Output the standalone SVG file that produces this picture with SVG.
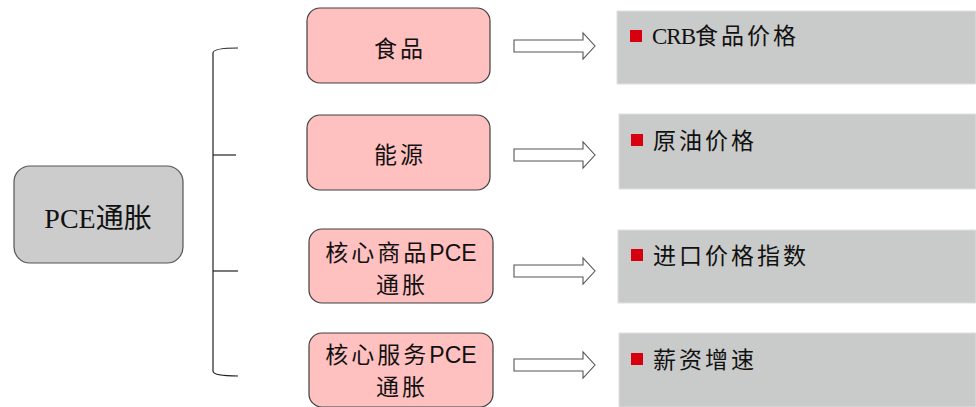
<svg xmlns="http://www.w3.org/2000/svg" width="976" height="407" viewBox="0 0 976 407">
<style>
  .cjk { font-family: "Liberation Serif", "Noto Sans CJK SC", serif; fill: #111; }
  .sans { font-family: "Liberation Sans", Arial, sans-serif; }
  .pink { fill: #ffc0c0; stroke: #404040; stroke-width: 1.2; }
  .gray { fill: #cccccc; stroke: #555; stroke-width: 1.2; }
  .panel { fill: #c9caca; stroke: #e0e0e0; stroke-width: 1; }
  .bullet { fill: #d7000f; }
  .line { fill: none; stroke: #222; stroke-width: 1.2; }
  .arrow { fill: #ffffff; stroke: #555; stroke-width: 1.1; }
  .node { font-size: 23px; letter-spacing: 3px; }
  .item { font-size: 23px; letter-spacing: 3px; }
</style>
<defs>
  <path id="blockArrow" d="M0,-6 H69 V-13 L81,0 L69,13 V6 H0 Z"/>
</defs>
<rect width="976" height="407" fill="#ffffff"/>

<g id="connectors">
  <path class="line" d="M238,48 Q213,48 213,53 V371 Q213,376 238,376"/>
  <line class="line" x1="213" y1="155" x2="236" y2="155"/>
  <line class="line" x1="213" y1="271" x2="238" y2="271"/>
  <use href="#blockArrow" class="arrow" transform="translate(514,46)"/>
  <use href="#blockArrow" class="arrow" transform="translate(514,155)"/>
  <use href="#blockArrow" class="arrow" transform="translate(514,271)"/>
  <use href="#blockArrow" class="arrow" transform="translate(514,365)"/>
</g>

<g id="node-pce">
  <rect class="gray" x="14" y="166" width="169" height="97" rx="16"/>
  <text class="cjk" x="98" y="228" font-size="28" text-anchor="middle">PCE通胀</text>
</g>

<g id="node-food">
  <rect class="pink" x="307" y="8" width="183" height="75" rx="13"/>
  <text class="cjk node" x="400" y="57" text-anchor="middle">食品</text>
</g>
<g id="node-energy">
  <rect class="pink" x="307" y="115" width="183" height="75" rx="13"/>
  <text class="cjk node" x="400" y="163" text-anchor="middle">能源</text>
</g>
<g id="node-core-goods">
  <rect class="pink" x="309" y="229" width="184" height="74" rx="13"/>
  <text class="cjk node" x="401" y="261" text-anchor="middle">核心商品<tspan class="sans" letter-spacing="0">PCE</tspan></text>
  <text class="cjk node" x="402" y="293" text-anchor="middle">通胀</text>
</g>
<g id="node-core-services">
  <rect class="pink" x="309" y="333" width="184" height="74" rx="13"/>
  <text class="cjk node" x="401" y="363" text-anchor="middle">核心服务<tspan class="sans" letter-spacing="0">PCE</tspan></text>
  <text class="cjk node" x="402" y="395" text-anchor="middle">通胀</text>
</g>

<g id="panel-crb">
  <rect class="panel" x="617" y="11" width="359" height="73"/>
  <rect class="bullet" x="630" y="30" width="12" height="12"/>
  <text class="cjk item" x="652" y="44"><tspan letter-spacing="-1">CRB</tspan>食品价格</text>
</g>
<g id="panel-oil">
  <rect class="panel" x="619" y="114" width="357" height="75"/>
  <rect class="bullet" x="631" y="134" width="12" height="12"/>
  <text class="cjk item" x="653" y="149">原油价格</text>
</g>
<g id="panel-import">
  <rect class="panel" x="618" y="230" width="358" height="73"/>
  <rect class="bullet" x="631" y="249" width="12" height="12"/>
  <text class="cjk item" x="653" y="264">进口价格指数</text>
</g>
<g id="panel-wage">
  <rect class="panel" x="619" y="333" width="357" height="74"/>
  <rect class="bullet" x="631" y="353" width="12" height="12"/>
  <text class="cjk item" x="653" y="368">薪资增速</text>
</g>
</svg>
